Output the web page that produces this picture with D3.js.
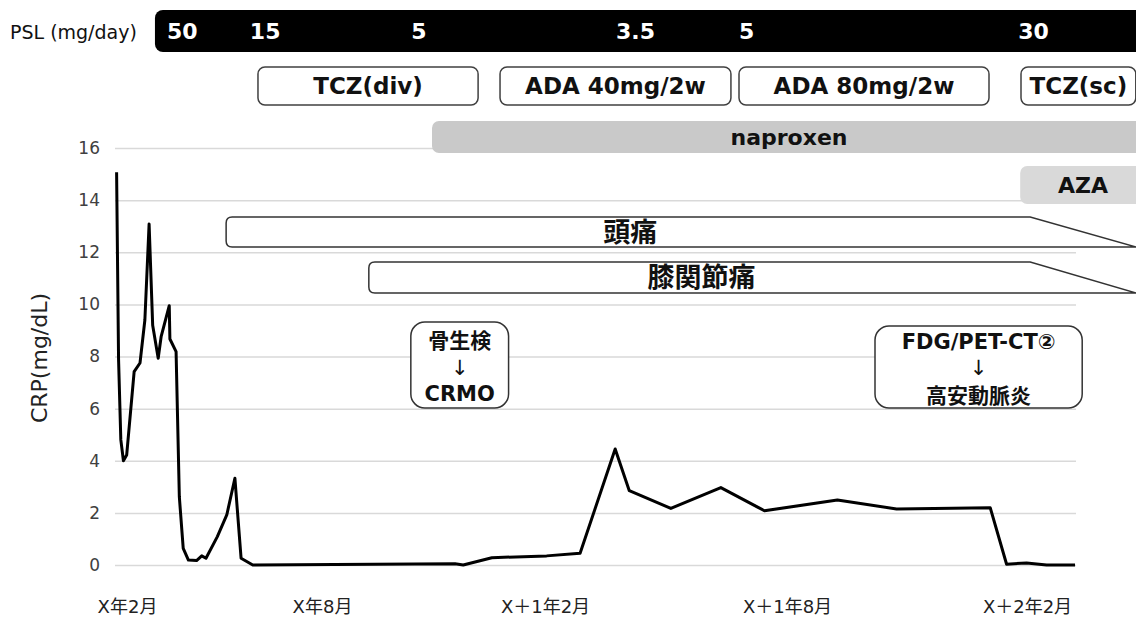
<!DOCTYPE html>
<html>
<head>
<meta charset="utf-8">
<script src="https://cdn.jsdelivr.net/npm/d3@7"></script>
<style>
  body { margin: 0; background: #fff; }
  svg { display: block; }
  text { font-family: "DejaVu Sans", "Noto Sans CJK JP", sans-serif; }
</style>
</head>
<body>
<svg id="chart" width="1136" height="617"></svg>
<script>
// time axis: months since X年2月
const monthTicks = [0, 6, 12, 18, 24];
const monthLabels = ["X年2月", "X年8月", "X＋1年2月", "X＋1年8月", "X＋2年2月"];
const crpTicks = [0, 2, 4, 6, 8, 10, 12, 14, 16];

// CRP course (mg/dL)
const crpMonths = [-0.32, -0.26, -0.19, -0.11, -0.01, 0.22, 0.40, 0.55, 0.68, 0.79,
  0.96, 1.05, 1.30, 1.32, 1.51, 1.61, 1.73, 1.89, 2.14, 2.30,
  2.43, 2.78, 3.07, 3.32, 3.51, 3.87, 9.58, 9.80, 10.57, 12.04,
  12.87, 13.74, 14.09, 15.12, 16.36, 17.44, 19.26, 20.74, 23.08, 23.49,
  23.99, 24.49, 25.2];
const crpValues = [15.07, 7.9, 4.8, 4.0, 4.22, 7.42, 7.75, 9.4, 13.08, 9.2,
  7.93, 8.76, 9.95, 8.67, 8.19, 2.62, 0.64, 0.19, 0.17, 0.35,
  0.26, 1.09, 1.92, 3.33, 0.26, 0, 0.05, 0, 0.28, 0.35,
  0.45, 4.45, 2.85, 2.17, 2.97, 2.08, 2.49, 2.15, 2.2, 0.03,
  0.08, 0, 0];

// PSL dose (mg/day) and when it starts
const pslDoses = ["50", "15", "5", "3.5", "5", "30"];
const pslStart = [1.23, 3.78, 8.4, 13.76, 16.81, 23.78];
const pslBarStart = 0.86;

// biologics
const biologics = ["TCZ(div)", "ADA 40mg/2w", "ADA 80mg/2w", "TCZ(sc)"];
const bioStart = [4.03, 10.79, 16.81, 23.85];
const bioEnd = [10.2, 16.61, 23.05, 26.72];

// other drugs
const drugs = ["naproxen", "AZA"];
const drugStart = [8.96, 23.83];
const drugEnd = [28, 28];

// symptoms
const symptoms = ["頭痛", "膝関節痛"];
const symptomStart = [3.05, 7.26];
const symptomFade = [24.08, 24.08];
const symptomEnd = [26.73, 26.73];

// findings
const notes = [["骨生検", "↓", "CRMO"], ["FDG/PET-CT②", "↓", "高安動脈炎"]];
const noteStart = [8.39, 20.2];
const noteEnd = [11.02, 25.38];

const svg = d3.select("#chart");
const W = 1136;
const plotLeft = 115, plotRight = 1076;

const x = d3.scaleLinear()
  .domain(monthTicks)
  .range([127, 322, 545, 787, 1027]);

const y = d3.scaleLinear()
  .domain([0, 16])
  .range([565, 148]);

// gridlines + y labels
const yAxis = svg.append("g")
  .attr("transform", `translate(${plotLeft},0)`)
  .call(d3.axisLeft(y).tickValues(crpTicks).tickSize(-(plotRight - plotLeft)).tickPadding(15));
yAxis.select(".domain").remove();
yAxis.selectAll(".tick line").attr("stroke", "#d9d9d9").attr("stroke-width", 1.5);
yAxis.selectAll(".tick text")
  .attr("font-family", "DejaVu Sans")
  .attr("font-size", 17)
  .attr("fill", "#404040");

// x labels
const xAxis = svg.append("g")
  .attr("transform", "translate(0,597)")
  .call(d3.axisBottom(x).tickValues(monthTicks).tickFormat((d, i) => monthLabels[i]).tickSize(0));
xAxis.select(".domain").remove();
xAxis.selectAll(".tick text")
  .attr("font-family", "DejaVu Sans, Noto Sans CJK JP")
  .attr("font-size", 18)
  .attr("fill", "#222");

svg.append("text")
  .attr("transform", "translate(47,358) rotate(-90)")
  .attr("text-anchor", "middle")
  .attr("font-size", 22)
  .attr("fill", "#222")
  .text("CRP(mg/dL)");

// PSL row
svg.append("text")
  .attr("x", 10).attr("y", 39)
  .attr("font-size", 19)
  .attr("fill", "#111")
  .text("PSL (mg/day)");

svg.append("rect")
  .attr("x", x(pslBarStart)).attr("y", 10)
  .attr("width", 1200 - x(pslBarStart)).attr("height", 42)
  .attr("rx", 8)
  .attr("fill", "#000");

svg.selectAll(".psl")
  .data(pslDoses)
  .enter()
  .append("text")
  .attr("class", "psl")
  .attr("x", (d, i) => x(pslStart[i]))
  .attr("y", 39)
  .attr("font-size", 22)
  .attr("font-weight", "bold")
  .attr("fill", "#fff")
  .text(d => d);

// biologics row
const bio = svg.selectAll(".bio")
  .data(biologics)
  .enter()
  .append("g")
  .attr("class", "bio");
bio.append("rect")
  .attr("x", (d, i) => x(bioStart[i]))
  .attr("y", 67)
  .attr("width", (d, i) => x(bioEnd[i]) - x(bioStart[i]))
  .attr("height", 38)
  .attr("rx", 7)
  .attr("fill", "#fff")
  .attr("stroke", "#404040")
  .attr("stroke-width", 1.5);
bio.append("text")
  .attr("x", (d, i) => (x(bioStart[i]) + x(bioEnd[i])) / 2)
  .attr("y", 86)
  .attr("dy", "0.36em")
  .attr("text-anchor", "middle")
  .attr("font-size", 23)
  .attr("font-weight", "bold")
  .attr("fill", "#111")
  .text(d => d);

// naproxen / AZA
const drugRows = [[121, 32], [166, 38]];
const drugFill = ["#c9c9c9", "#d9d9d9"];
const drug = svg.selectAll(".drug")
  .data(drugs)
  .enter()
  .append("g")
  .attr("class", "drug");
drug.append("rect")
  .attr("x", (d, i) => x(drugStart[i]))
  .attr("y", (d, i) => drugRows[i][0])
  .attr("width", (d, i) => x(drugEnd[i]) - x(drugStart[i]))
  .attr("height", (d, i) => drugRows[i][1])
  .attr("rx", 7)
  .attr("fill", (d, i) => drugFill[i]);
drug.append("text")
  .attr("x", (d, i) => (x(drugStart[i]) + W) / 2 + 5)
  .attr("y", (d, i) => drugRows[i][0] + drugRows[i][1] / 2)
  .attr("dy", "0.36em")
  .attr("text-anchor", "middle")
  .attr("font-size", 22)
  .attr("font-weight", "bold")
  .attr("fill", "#111")
  .text(d => d);

// symptoms (fading right end)
const symptomRows = [[217, 30], [262, 31]];
const sym = svg.selectAll(".sym")
  .data(symptoms)
  .enter()
  .append("g")
  .attr("class", "sym");
sym.append("path")
  .attr("d", (d, i) => {
    const x0 = x(symptomStart[i]), x1 = x(symptomFade[i]), x2 = x(symptomEnd[i]);
    const t = symptomRows[i][0], b = t + symptomRows[i][1], r = 6;
    return `M${x0 + r},${t} L${x1},${t} L${x2},${b} L${x0 + r},${b} Q${x0},${b} ${x0},${b - r} L${x0},${t + r} Q${x0},${t} ${x0 + r},${t} Z`;
  })
  .attr("fill", "#fff")
  .attr("stroke", "#333")
  .attr("stroke-width", 1.5);
sym.append("text")
  .attr("x", (d, i) => (x(symptomStart[i]) + x(symptomFade[i])) / 2 + 2)
  .attr("y", (d, i) => symptomRows[i][0] + symptomRows[i][1] / 2)
  .attr("dy", "0.36em")
  .attr("text-anchor", "middle")
  .attr("font-family", "Noto Sans CJK JP")
  .attr("font-size", 27)
  .attr("font-weight", "bold")
  .attr("fill", "#111")
  .text(d => d);

// finding notes
const noteTop = [322, 326];
const noteBottom = [408, 408];
const note = svg.selectAll(".note")
  .data(notes)
  .enter()
  .append("g")
  .attr("class", "note");
note.append("rect")
  .attr("x", (d, i) => x(noteStart[i]))
  .attr("y", (d, i) => noteTop[i])
  .attr("width", (d, i) => x(noteEnd[i]) - x(noteStart[i]))
  .attr("height", (d, i) => noteBottom[i] - noteTop[i])
  .attr("rx", 14)
  .attr("fill", "#fff")
  .attr("stroke", "#333")
  .attr("stroke-width", 1.5);
note.each(function (d, i) {
  const cx = (x(noteStart[i]) + x(noteEnd[i])) / 2;
  const ys = i === 0 ? [340, 367, 393] : [341, 367, 395];
  d3.select(this).selectAll("text")
    .data(d)
    .enter()
    .append("text")
    .attr("x", cx)
    .attr("y", (t, j) => ys[j])
    .attr("dy", "0.36em")
    .attr("text-anchor", "middle")
    .attr("font-size", 21)
    .attr("font-weight", (t, j) => j === 1 ? "normal" : "bold")
    .attr("fill", "#111")
    .text(t => t);
});

// CRP line
const line = d3.line()
  .x((d, i) => x(crpMonths[i]))
  .y(d => y(d));

svg.append("path")
  .datum(crpValues)
  .attr("d", line)
  .attr("fill", "none")
  .attr("stroke", "#000")
  .attr("stroke-width", 3)
  .attr("stroke-linejoin", "round");
</script>
</body>
</html>
